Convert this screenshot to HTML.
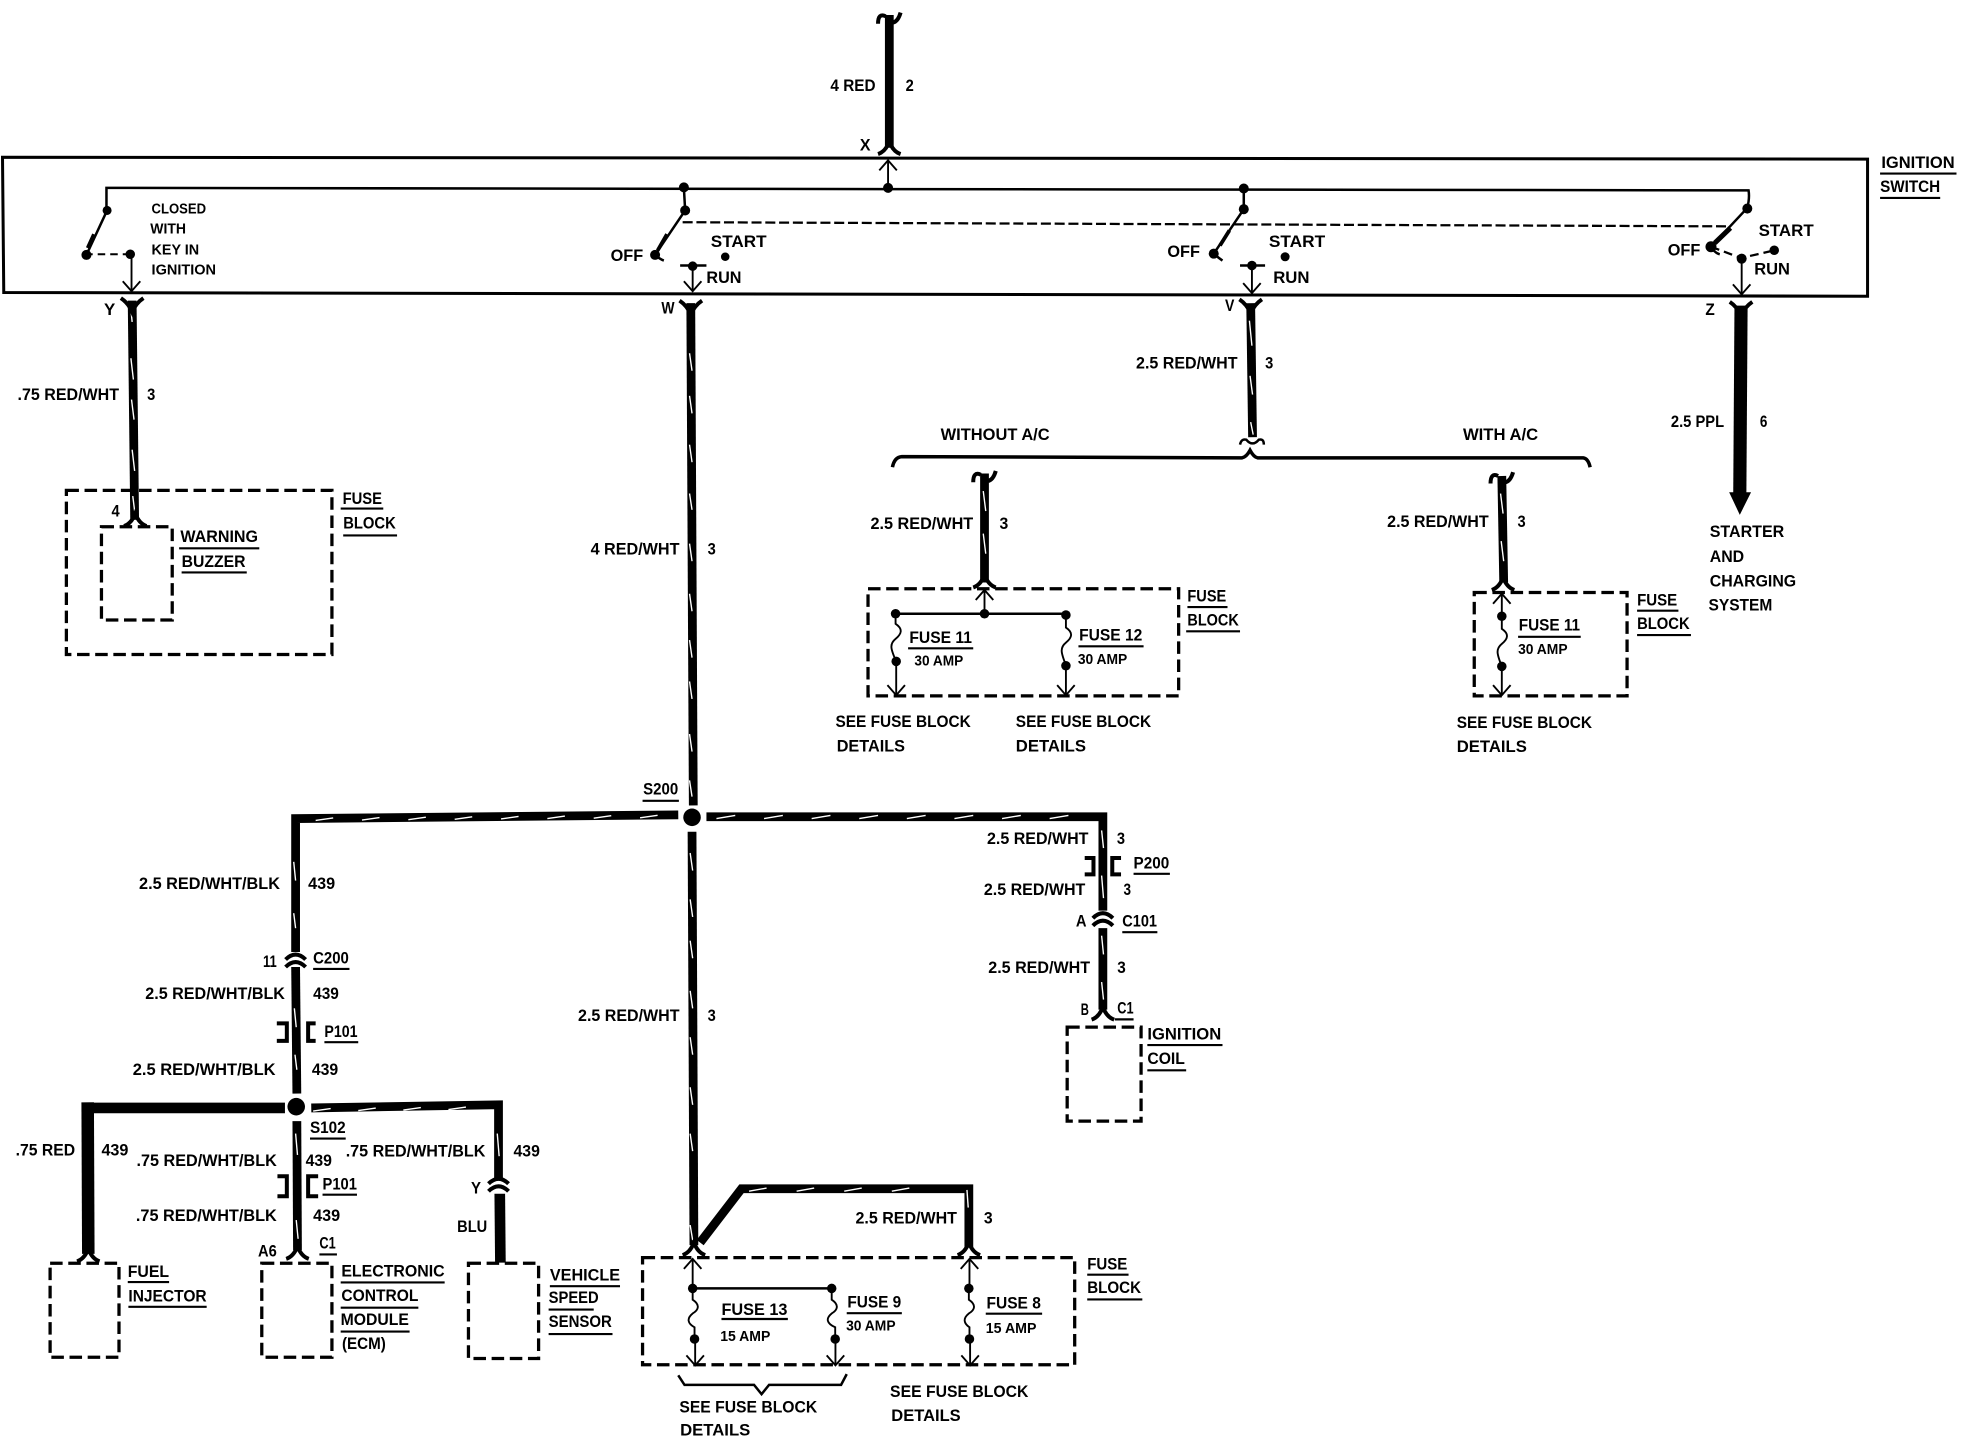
<!DOCTYPE html>
<html><head><meta charset="utf-8"><title>Ignition switch wiring diagram</title>
<style>
html,body{margin:0;padding:0;background:#fff}
svg{display:block}
text{font-family:"Liberation Sans",sans-serif;font-weight:bold;font-size:13px;fill:#000}
.sm{font-size:11.5px}
.w{fill:none;stroke:#000;stroke-width:7}
.tk{fill:none;stroke:#fff;stroke-width:1.1}
.t{fill:none;stroke:#000;stroke-width:2}
.f{fill:none;stroke:#000;stroke-width:3.2}
.d{fill:none;stroke:#000;stroke-width:2.6;stroke-dasharray:10 4.5}
.u{fill:none;stroke:#000;stroke-width:1.7}
.th{fill:none;stroke:#000;stroke-width:1.5}
</style></head><body>
<svg width="1964" height="1440" viewBox="0 0 1568 1149.6" preserveAspectRatio="none" xmlns="http://www.w3.org/2000/svg">
<defs>
<g id="fd"><path class="f" d="M-9,-6 Q-3,-2 0,5 Q3,-2 9,-6"/></g>
<g id="fu"><path class="f" d="M-9,5 Q-3,3 0,-5 Q3,3 9,5"/></g>
<g id="ft"><path class="f" d="M-9,4 Q-9,-5 -3,-2 M3,3 Q7,2 9,-5"/></g>
<g id="ad"><path class="th" d="M-7,-8 L0,0 L7,-8"/></g>
<g id="au"><path class="th" d="M-7,8 L0,0 L7,8"/></g>
<g id="cc"><path class="f" d="M-8,3 Q0,-5 8,3"/><path class="f" d="M-8,9 Q0,1 8,9"/></g>
</defs>
<rect width="1568" height="1150" fill="#fff"/>

<!-- ignition switch box -->
<path d="M2,125.5 L1491,127 L1491,236.5 L3,233.5 Z" fill="none" stroke="#000" stroke-width="2.4"/>
<path class="t" d="M85,168 V150 L1396,152 Q1397,158 1395,166"/>
<path class="t" d="M546,150 L547,168 M993,151 V167"/>
<path d="M545,177.4 L1379,180.7" fill="none" stroke="#000" stroke-width="1.8" stroke-dasharray="8 3"/>
<!-- switch blades -->
<path class="t" d="M85.5,168 L69,203.5 M547,168 L523,203.5 Q527,207 530,208 M993,167 L969,202.5 Q973,206 976,208 M1395,166 L1366,197 Q1369,202 1373,203"/>
<path d="M75,187 L70,198 M532.5,187 L525,200 M981.5,184 L974,196" fill="none" stroke="#000" stroke-width="3"/>
<path d="M1381.5,182 L1369,194" fill="none" stroke="#000" stroke-width="4"/>
<path d="M104,203 H70" fill="none" stroke="#000" stroke-width="1.6" stroke-dasharray="6 4"/>
<path d="M1366,197 L1390,206 L1416,200" fill="none" stroke="#000" stroke-width="1.8" stroke-dasharray="7 4"/>
<g fill="#000">
<circle cx="85.5" cy="168" r="3.6"/><circle cx="69" cy="203.5" r="4"/><circle cx="104" cy="203" r="3.8"/>
<circle cx="546" cy="149.6" r="4"/><circle cx="547" cy="168" r="4"/><circle cx="523" cy="203.5" r="4"/><circle cx="579" cy="205" r="3.4"/><circle cx="553" cy="212.5" r="3.8"/>
<circle cx="709" cy="150" r="4"/>
<circle cx="993" cy="150.5" r="4"/><circle cx="993" cy="167" r="4"/><circle cx="969" cy="202.5" r="4"/><circle cx="1026" cy="205" r="3.6"/><circle cx="999.5" cy="212" r="3.8"/>
<circle cx="1395" cy="166.5" r="4"/><circle cx="1366" cy="197" r="4.4"/><circle cx="1416.5" cy="199.8" r="3.8"/><circle cx="1390.5" cy="206.5" r="4"/>
</g>
<path class="t" d="M543,212 H564 M990,212 H1010"/>
<path class="th" d="M105,203 V232 M553,212 V232 M999.5,212 V233 M1390.5,206 V234 M709,128 V150"/>
<use href="#ad" x="105" y="232.5"/><use href="#ad" x="553" y="232.5"/><use href="#ad" x="999.5" y="234"/><use href="#ad" x="1390.5" y="235"/><use href="#au" x="709" y="128"/>

<!-- top wire -->
<path class="w" d="M710,12 V118"/>
<use href="#ft" x="710" y="15"/><use href="#fu" x="710" y="118"/>

<!-- Y wire -->
<path class="w" d="M105.5,240 L107.5,415"/>
<path class="tk" d="M104.5,247 l1,10 M104.5,286 l2,17 M105,319 l2,16 M105.5,359 l2,17 M106,396 l2,16"/>
<use href="#fd" x="105.5" y="244"/><use href="#fu" x="108" y="415"/>
<rect class="d" x="53" y="391.5" width="212" height="131"/>
<rect class="d" x="81" y="420.5" width="56.5" height="74.5"/>

<!-- W wire -->
<path class="w" d="M551.5,242 L553.5,643"/>
<path class="tk" d="M550.5,282 l2,14 m-2,20 l2,14 m-2,25 l2,14 m-2,25 l2,13 m-2,27 l2,14 m-2,26 l2,14 m-2,23 l2,14 m-2,19 l2,14 m-2,28 l2,14 m-2,23 l2,13"/>
<use href="#fd" x="551.5" y="246"/>
<circle cx="552.5" cy="652.5" r="7" fill="#000"/>
<path class="w" d="M552.5,664 L554,994"/>
<path class="tk" d="M551,681 l2,14 m-2,23 l2,14 m-2,19 l2,14 m-2,26 l2,14 m-2,23 l2,14 m-2,26 l2,14 m-2,23 l2,14 m-2,59 l2,12"/>

<!-- S200 horizontals -->
<path class="w" d="M541.5,650.5 L236,653.5 V760"/>
<path class="tk" d="M252,655 l14,-2 m23,1.7 l14,-2 m23,1.7 l14,-2 m23,1.7 l14,-2 m23,1.7 l14,-2 m23,1.7 l14,-2 m23,1.7 l14,-2 m23,1.7 l14,-2"/>
<path class="tk" d="M234.5,688 l1.5,15 M234.5,729 l1.5,12"/>
<path class="w" d="M564,652 H880.5 V727"/>
<path class="tk" d="M572,653.5 l15,-2.5 m23,2.5 l15,-2.5 m23,2.5 l15,-2.5 m23,2.5 l15,-2.5 m23,2.5 l15,-2.5 m23,2.5 l15,-2.5 m23,2.5 l15,-2.5 m23,2.5 l15,-2.5"/>
<path class="tk" d="M879.5,663 l1.5,14 M879.5,699 l1.5,18"/>
<path class="w" d="M880.5,741 V806"/>
<path class="tk" d="M879.5,747 l1.5,15 M879.5,784 l1.5,14"/>
<use href="#cc" x="880.5" y="730"/><use href="#fu" x="880.5" y="809"/>
<path class="f" d="M866,685 H873 V698 H866 M895,685 H888 V698 H895"/>
<rect class="d" x="852" y="820" width="59" height="75"/>

<!-- C200 / P101 / S102 -->
<use href="#cc" x="236" y="763"/>
<path class="w" d="M236,772 L237,873"/>
<path class="tk" d="M235,805 l1.5,15 M235.5,842 l1.5,12"/>
<path class="f" d="M221,817 H229 V831 H221 M252,817 H246 V831 H252"/>
<circle cx="236.5" cy="883.5" r="7" fill="#000"/>
<path d="M227.5,884.5 H70" fill="none" stroke="#000" stroke-width="8.5"/>
<path d="M70,880 L70.5,1001" fill="none" stroke="#000" stroke-width="10"/>
<use href="#fu" x="70.5" y="1002"/>
<path class="w" d="M248.5,884.5 L398,882 V942"/>
<path class="tk" d="M250,887 l14,-2 m22,1.6 l14,-2 m22,1.6 l14,-2 m22,1.6 l14,-2"/>
<path class="tk" d="M397,905 l1.5,18"/>
<use href="#cc" x="398" y="942"/>
<path d="M399,953 L399.5,1008" fill="none" stroke="#000" stroke-width="8.5"/>
<path class="w" d="M237,895 L237.5,998"/>
<path class="tk" d="M236,905 l1.5,17 M236.5,974 l1.5,15"/>
<use href="#fu" x="237.5" y="1000"/>
<path class="f" d="M221.5,939 H229 V955 H221.5 M254,939 H246 V955 H254"/>
<rect class="d" x="40" y="1008.5" width="55" height="75"/>
<rect class="d" x="209" y="1008.5" width="56" height="75"/>
<rect class="d" x="374" y="1008.5" width="56" height="76"/>

<!-- lower fuse block -->
<path class="w" d="M559,992 L592,949 H773.5 V996"/>
<path class="tk" d="M598,951 l14,-2.5 m24,2.5 l14,-2.5 m24,2.5 l14,-2.5 m24,2.5 l14,-2.5"/>
<path class="tk" d="M772,950 l1,14"/>
<use href="#fu" x="554" y="997"/><use href="#fu" x="773.5" y="997"/>
<rect class="d" x="513" y="1004" width="345" height="85.5"/>
<path class="th" d="M553,1005 V1028 M774,1005 V1028 M555,1069 V1089 M667,1069 V1089 M774.5,1069 V1089"/>
<use href="#au" x="553" y="1005"/><use href="#au" x="774" y="1005"/><use href="#ad" x="555" y="1090"/><use href="#ad" x="667" y="1090"/><use href="#ad" x="774.5" y="1090"/>
<path class="t" d="M553,1028.6 H664"/>
<path class="th" d="M553,1028.6 v9 c6,4 5,8 0,11 c-5,4 -4,8 1.5,11 v9 M664,1028.6 v9 c6,4 5,8 0,11 c-5,4 -4,8 2.8,11 v9 M773.5,1028.6 v9 c6,4 5,8 0,11 c-5,4 -4,8 0.5,11 v9"/>
<g fill="#000"><circle cx="553" cy="1028.6" r="3.8"/><circle cx="664" cy="1028.6" r="3.8"/><circle cx="554.5" cy="1069" r="3.8"/><circle cx="666.8" cy="1069" r="3.8"/><circle cx="773.5" cy="1028.6" r="3.8"/><circle cx="774" cy="1069" r="3.8"/></g>
<path class="t" d="M541.5,1098 L546.5,1105.6 H602 L608,1113 L614,1105.6 H671.5 L676,1097"/>

<!-- V wire and brace -->
<path class="w" d="M998.5,242 L1000,349"/>
<path class="tk" d="M997.5,256 l2,20 M998,300 l2,15 M998.5,337 l2,10"/>
<use href="#fd" x="998.5" y="245"/>
<path class="t" d="M990,355 Q991,350 995,351 Q1000,357 1005,351 Q1009,350 1009,355"/>
<path d="M712.5,373 Q714,365 720,364.5 L991.5,365.5 Q995,365 998,359.5 Q1001,365 1004,365.5 L1264,365.5 Q1268,366 1269.5,373" fill="none" stroke="#000" stroke-width="2.8"/>

<!-- left A/C branch -->
<path class="w" d="M786,378 V465"/>
<path class="tk" d="M785,392 l2,16 M785,426 l2,16"/>
<use href="#ft" x="786" y="381"/><use href="#fu" x="786" y="464"/>
<rect class="d" x="693" y="470" width="248" height="85.5"/>
<path class="th" d="M786,471 V490 M715.5,528 V554 M851,531 V554"/>
<use href="#au" x="786" y="471"/><use href="#ad" x="715.5" y="555"/><use href="#ad" x="851" y="555"/>
<path class="t" d="M715,490 H851"/>
<path class="th" d="M715,490 v8 c6,4 5,8 0,12 c-5,4 -4,8 0.5,18 M851,491 v10 c6,4 5,8 0,12 c-5,4 -4,8 0,18"/>
<g fill="#000"><circle cx="786" cy="490" r="3.8"/><circle cx="715" cy="490" r="3.8"/><circle cx="851" cy="491" r="3.8"/><circle cx="715.5" cy="528" r="3.8"/><circle cx="851" cy="531.5" r="3.8"/></g>

<!-- right A/C branch -->
<path class="w" d="M1199,380 L1200.5,465"/>
<path class="tk" d="M1198,394 l2,16 M1198.5,432 l2,16"/>
<use href="#ft" x="1199" y="382"/><use href="#fu" x="1200" y="466"/>
<rect class="d" x="1177" y="473" width="122" height="82.5"/>
<path class="th" d="M1199,474 V492 M1199,532 V554"/>
<use href="#au" x="1199" y="474"/><use href="#ad" x="1199" y="555"/>
<path class="th" d="M1199,492 v10 c6,4 5,8 0,12 c-5,4 -4,8 0,18"/>
<g fill="#000"><circle cx="1199" cy="492" r="3.8"/><circle cx="1199" cy="532" r="3.8"/></g>

<!-- Z wire -->
<path d="M1390,244 L1389,395" fill="none" stroke="#000" stroke-width="10.5"/>
<use href="#fd" x="1390" y="247"/>
<path d="M1380.5,393 H1398 L1389,411 Z" fill="#000"/>

<!-- underlines -->
<path class="u" d="M1501,138.6 H1562 M1501,158 H1549 M272,406 H306 M274,427.5 H317 M143,437.7 H207 M145,457 H197 M725,517.6 H777 M861,516 H913 M948,484.6 H980 M947,504 H990 M1212,508.4 H1262 M1307,487.5 H1340 M1307,507 H1350 M513,639.3 H542 M250,773.5 H279 M259,832 H286 M247.5,909 H276 M257.5,953.8 H285 M255,1001.5 H269 M102,1023.5 H135 M102.5,1043.3 H165 M272,1023.8 H355 M272,1044 H334 M272,1063 H327 M439,1026.8 H495 M438,1045.5 H474 M438,1065 H489 M576,1053 H629 M676,1048.4 H720 M787,1048.8 H832 M868,1017.6 H901 M868,1037.4 H912 M905,697.6 H934 M896,744.2 H924 M890,813.8 H905 M916,834.3 H976 M916,854.5 H947"/>

<!-- labels -->
<g transform="translate(0,-0.7)">
<text x="663" y="73.3" textLength="36" lengthAdjust="spacingAndGlyphs">4 RED</text>
<text x="723" y="73.3" textLength="6.5" lengthAdjust="spacingAndGlyphs">2</text>
<text x="686.5" y="121" textLength="8.5" lengthAdjust="spacingAndGlyphs">X</text>
<text x="1502" y="135" textLength="58.5" lengthAdjust="spacingAndGlyphs">IGNITION</text>
<text x="1501" y="154" textLength="48" lengthAdjust="spacingAndGlyphs">SWITCH</text>
<text x="121" y="171" textLength="43.5" lengthAdjust="spacingAndGlyphs" class="sm">CLOSED</text>
<text x="120" y="187.3" textLength="28.5" lengthAdjust="spacingAndGlyphs" class="sm">WITH</text>
<text x="121" y="204" textLength="38" lengthAdjust="spacingAndGlyphs" class="sm">KEY IN</text>
<text x="121" y="220" textLength="51.5" lengthAdjust="spacingAndGlyphs" class="sm">IGNITION</text>
<text x="487.5" y="209" textLength="26" lengthAdjust="spacingAndGlyphs">OFF</text>
<text x="567.5" y="198" textLength="44.5" lengthAdjust="spacingAndGlyphs">START</text>
<text x="564" y="226.5" textLength="28" lengthAdjust="spacingAndGlyphs">RUN</text>
<text x="932" y="206" textLength="26" lengthAdjust="spacingAndGlyphs">OFF</text>
<text x="1013" y="198" textLength="45" lengthAdjust="spacingAndGlyphs">START</text>
<text x="1016.5" y="226.5" textLength="29" lengthAdjust="spacingAndGlyphs">RUN</text>
<text x="1331.5" y="204.5" textLength="26" lengthAdjust="spacingAndGlyphs">OFF</text>
<text x="1404" y="189" textLength="44" lengthAdjust="spacingAndGlyphs">START</text>
<text x="1400.5" y="220" textLength="28.5" lengthAdjust="spacingAndGlyphs">RUN</text>
<text x="83" y="252" textLength="9" lengthAdjust="spacingAndGlyphs">Y</text>
<text x="528" y="251" textLength="10.5" lengthAdjust="spacingAndGlyphs">W</text>
<text x="978" y="249" textLength="7.5" lengthAdjust="spacingAndGlyphs">V</text>
<text x="1361.5" y="252" textLength="7.5" lengthAdjust="spacingAndGlyphs">Z</text>
<text x="14" y="320" textLength="81" lengthAdjust="spacingAndGlyphs">.75 RED/WHT</text>
<text x="117.5" y="320" textLength="6.5" lengthAdjust="spacingAndGlyphs">3</text>
<text x="273.5" y="403" textLength="31.5" lengthAdjust="spacingAndGlyphs">FUSE</text>
<text x="274" y="422.6" textLength="42" lengthAdjust="spacingAndGlyphs">BLOCK</text>
<text x="89" y="413" textLength="6.5" lengthAdjust="spacingAndGlyphs">4</text>
<text x="144" y="433.6" textLength="62" lengthAdjust="spacingAndGlyphs">WARNING</text>
<text x="145" y="453.4" textLength="51" lengthAdjust="spacingAndGlyphs">BUZZER</text>
<text x="471.5" y="443.5" textLength="71" lengthAdjust="spacingAndGlyphs">4 RED/WHT</text>
<text x="565" y="443.5" textLength="6.5" lengthAdjust="spacingAndGlyphs">3</text>
<text x="907" y="295" textLength="81" lengthAdjust="spacingAndGlyphs">2.5 RED/WHT</text>
<text x="1010" y="295" textLength="6.5" lengthAdjust="spacingAndGlyphs">3</text>
<text x="751" y="352" textLength="87" lengthAdjust="spacingAndGlyphs">WITHOUT A/C</text>
<text x="1168" y="352" textLength="60" lengthAdjust="spacingAndGlyphs">WITH A/C</text>
<text x="695" y="423" textLength="82" lengthAdjust="spacingAndGlyphs">2.5 RED/WHT</text>
<text x="798" y="423" textLength="7" lengthAdjust="spacingAndGlyphs">3</text>
<text x="1107.5" y="421.6" textLength="81" lengthAdjust="spacingAndGlyphs">2.5 RED/WHT</text>
<text x="1211.5" y="421.6" textLength="6.5" lengthAdjust="spacingAndGlyphs">3</text>
<text x="1334" y="341.6" textLength="42.5" lengthAdjust="spacingAndGlyphs">2.5 PPL</text>
<text x="1405" y="341.6" textLength="6" lengthAdjust="spacingAndGlyphs">6</text>
<text x="1365" y="429.6" textLength="59.5" lengthAdjust="spacingAndGlyphs">STARTER</text>
<text x="1365" y="449.4" textLength="27.5" lengthAdjust="spacingAndGlyphs">AND</text>
<text x="1365" y="469" textLength="69" lengthAdjust="spacingAndGlyphs">CHARGING</text>
<text x="1364" y="488" textLength="51" lengthAdjust="spacingAndGlyphs">SYSTEM</text>
<text x="948" y="481" textLength="31" lengthAdjust="spacingAndGlyphs">FUSE</text>
<text x="948" y="500" textLength="41" lengthAdjust="spacingAndGlyphs">BLOCK</text>
<text x="726" y="514" textLength="50" lengthAdjust="spacingAndGlyphs">FUSE 11</text>
<text x="730" y="532" textLength="39" lengthAdjust="spacingAndGlyphs" class="sm">30 AMP</text>
<text x="861.5" y="512" textLength="50.5" lengthAdjust="spacingAndGlyphs">FUSE 12</text>
<text x="860.5" y="531" textLength="39.5" lengthAdjust="spacingAndGlyphs" class="sm">30 AMP</text>
<text x="1212.5" y="504" textLength="49" lengthAdjust="spacingAndGlyphs">FUSE 11</text>
<text x="1212" y="523" textLength="39.5" lengthAdjust="spacingAndGlyphs" class="sm">30 AMP</text>
<text x="1307" y="484" textLength="32" lengthAdjust="spacingAndGlyphs">FUSE</text>
<text x="1307" y="503" textLength="42" lengthAdjust="spacingAndGlyphs">BLOCK</text>
<text x="667" y="581" textLength="108" lengthAdjust="spacingAndGlyphs">SEE FUSE BLOCK</text>
<text x="668" y="600.5" textLength="54.5" lengthAdjust="spacingAndGlyphs">DETAILS</text>
<text x="811" y="581" textLength="108" lengthAdjust="spacingAndGlyphs">SEE FUSE BLOCK</text>
<text x="811" y="600.5" textLength="56" lengthAdjust="spacingAndGlyphs">DETAILS</text>
<text x="1163" y="582" textLength="108" lengthAdjust="spacingAndGlyphs">SEE FUSE BLOCK</text>
<text x="1163" y="601" textLength="56" lengthAdjust="spacingAndGlyphs">DETAILS</text>
<text x="513.5" y="635" textLength="28" lengthAdjust="spacingAndGlyphs">S200</text>
<text x="111" y="710.4" textLength="112.5" lengthAdjust="spacingAndGlyphs">2.5 RED/WHT/BLK</text>
<text x="246" y="710.4" textLength="21.5" lengthAdjust="spacingAndGlyphs">439</text>
<text x="788" y="674.5" textLength="81" lengthAdjust="spacingAndGlyphs">2.5 RED/WHT</text>
<text x="891.7" y="674.5" textLength="6.5" lengthAdjust="spacingAndGlyphs">3</text>
<text x="905" y="694" textLength="28.5" lengthAdjust="spacingAndGlyphs">P200</text>
<text x="785.5" y="715.2" textLength="81" lengthAdjust="spacingAndGlyphs">2.5 RED/WHT</text>
<text x="897" y="715.2" textLength="6" lengthAdjust="spacingAndGlyphs">3</text>
<text x="859" y="740.5" textLength="8.5" lengthAdjust="spacingAndGlyphs">A</text>
<text x="896" y="740.5" textLength="27.7" lengthAdjust="spacingAndGlyphs">C101</text>
<text x="789" y="777.5" textLength="81.3" lengthAdjust="spacingAndGlyphs">2.5 RED/WHT</text>
<text x="892" y="777.5" textLength="6.8" lengthAdjust="spacingAndGlyphs">3</text>
<text x="862.8" y="811.2" textLength="6.5" lengthAdjust="spacingAndGlyphs">B</text>
<text x="892" y="809.8" textLength="13" lengthAdjust="spacingAndGlyphs">C1</text>
<text x="916" y="830.7" textLength="59" lengthAdjust="spacingAndGlyphs">IGNITION</text>
<text x="916" y="850" textLength="30" lengthAdjust="spacingAndGlyphs">COIL</text>
<text x="210" y="772.7" textLength="11" lengthAdjust="spacingAndGlyphs">11</text>
<text x="250" y="769.8" textLength="28.5" lengthAdjust="spacingAndGlyphs">C200</text>
<text x="116" y="798.4" textLength="111.5" lengthAdjust="spacingAndGlyphs">2.5 RED/WHT/BLK</text>
<text x="250" y="798.4" textLength="20.5" lengthAdjust="spacingAndGlyphs">439</text>
<text x="259" y="828.5" textLength="26.5" lengthAdjust="spacingAndGlyphs">P101</text>
<text x="106" y="858.9" textLength="114" lengthAdjust="spacingAndGlyphs">2.5 RED/WHT/BLK</text>
<text x="249" y="858.9" textLength="21" lengthAdjust="spacingAndGlyphs">439</text>
<text x="247.5" y="905.4" textLength="28.5" lengthAdjust="spacingAndGlyphs">S102</text>
<text x="12.5" y="923" textLength="47.5" lengthAdjust="spacingAndGlyphs">.75 RED</text>
<text x="81" y="923" textLength="21.5" lengthAdjust="spacingAndGlyphs">439</text>
<text x="109" y="931.5" textLength="112" lengthAdjust="spacingAndGlyphs">.75 RED/WHT/BLK</text>
<text x="244" y="931.5" textLength="21" lengthAdjust="spacingAndGlyphs">439</text>
<text x="276" y="923.8" textLength="111.5" lengthAdjust="spacingAndGlyphs">.75 RED/WHT/BLK</text>
<text x="410" y="923.8" textLength="21" lengthAdjust="spacingAndGlyphs">439</text>
<text x="257.5" y="950.5" textLength="27.5" lengthAdjust="spacingAndGlyphs">P101</text>
<text x="376" y="953.5" textLength="8" lengthAdjust="spacingAndGlyphs">Y</text>
<text x="108.5" y="975.5" textLength="112.5" lengthAdjust="spacingAndGlyphs">.75 RED/WHT/BLK</text>
<text x="250" y="975.5" textLength="21.5" lengthAdjust="spacingAndGlyphs">439</text>
<text x="365" y="984.3" textLength="24" lengthAdjust="spacingAndGlyphs">BLU</text>
<text x="206" y="1003.7" textLength="15" lengthAdjust="spacingAndGlyphs">A6</text>
<text x="255" y="997.5" textLength="13" lengthAdjust="spacingAndGlyphs">C1</text>
<text x="102" y="1020.2" textLength="33" lengthAdjust="spacingAndGlyphs">FUEL</text>
<text x="102.5" y="1039.6" textLength="62.5" lengthAdjust="spacingAndGlyphs">INJECTOR</text>
<text x="272.5" y="1019.8" textLength="82.5" lengthAdjust="spacingAndGlyphs">ELECTRONIC</text>
<text x="272.5" y="1039.2" textLength="61.5" lengthAdjust="spacingAndGlyphs">CONTROL</text>
<text x="272" y="1058.7" textLength="54.5" lengthAdjust="spacingAndGlyphs">MODULE</text>
<text x="273" y="1077.7" textLength="35" lengthAdjust="spacingAndGlyphs">(ECM)</text>
<text x="439" y="1022.8" textLength="56" lengthAdjust="spacingAndGlyphs">VEHICLE</text>
<text x="438" y="1041" textLength="40" lengthAdjust="spacingAndGlyphs">SPEED</text>
<text x="438" y="1060" textLength="50.5" lengthAdjust="spacingAndGlyphs">SENSOR</text>
<text x="461.5" y="816" textLength="81" lengthAdjust="spacingAndGlyphs">2.5 RED/WHT</text>
<text x="565" y="816" textLength="6.5" lengthAdjust="spacingAndGlyphs">3</text>
<text x="683" y="977.3" textLength="81" lengthAdjust="spacingAndGlyphs">2.5 RED/WHT</text>
<text x="785.5" y="977.3" textLength="7" lengthAdjust="spacingAndGlyphs">3</text>
<text x="576" y="1050.6" textLength="52.7" lengthAdjust="spacingAndGlyphs">FUSE 13</text>
<text x="575" y="1071.2" textLength="40" lengthAdjust="spacingAndGlyphs" class="sm">15 AMP</text>
<text x="676.5" y="1044.7" textLength="43" lengthAdjust="spacingAndGlyphs">FUSE 9</text>
<text x="675.5" y="1063" textLength="39.5" lengthAdjust="spacingAndGlyphs" class="sm">30 AMP</text>
<text x="787.6" y="1045.5" textLength="43.4" lengthAdjust="spacingAndGlyphs">FUSE 8</text>
<text x="787" y="1065" textLength="40.5" lengthAdjust="spacingAndGlyphs" class="sm">15 AMP</text>
<text x="868" y="1014" textLength="32" lengthAdjust="spacingAndGlyphs">FUSE</text>
<text x="868" y="1033" textLength="43" lengthAdjust="spacingAndGlyphs">BLOCK</text>
<text x="542.4" y="1128.3" textLength="110" lengthAdjust="spacingAndGlyphs">SEE FUSE BLOCK</text>
<text x="543" y="1146.6" textLength="56" lengthAdjust="spacingAndGlyphs">DETAILS</text>
<text x="710.6" y="1115.9" textLength="110.4" lengthAdjust="spacingAndGlyphs">SEE FUSE BLOCK</text>
<text x="711.6" y="1135" textLength="55.4" lengthAdjust="spacingAndGlyphs">DETAILS</text>
</g>
</svg>
</body></html>
